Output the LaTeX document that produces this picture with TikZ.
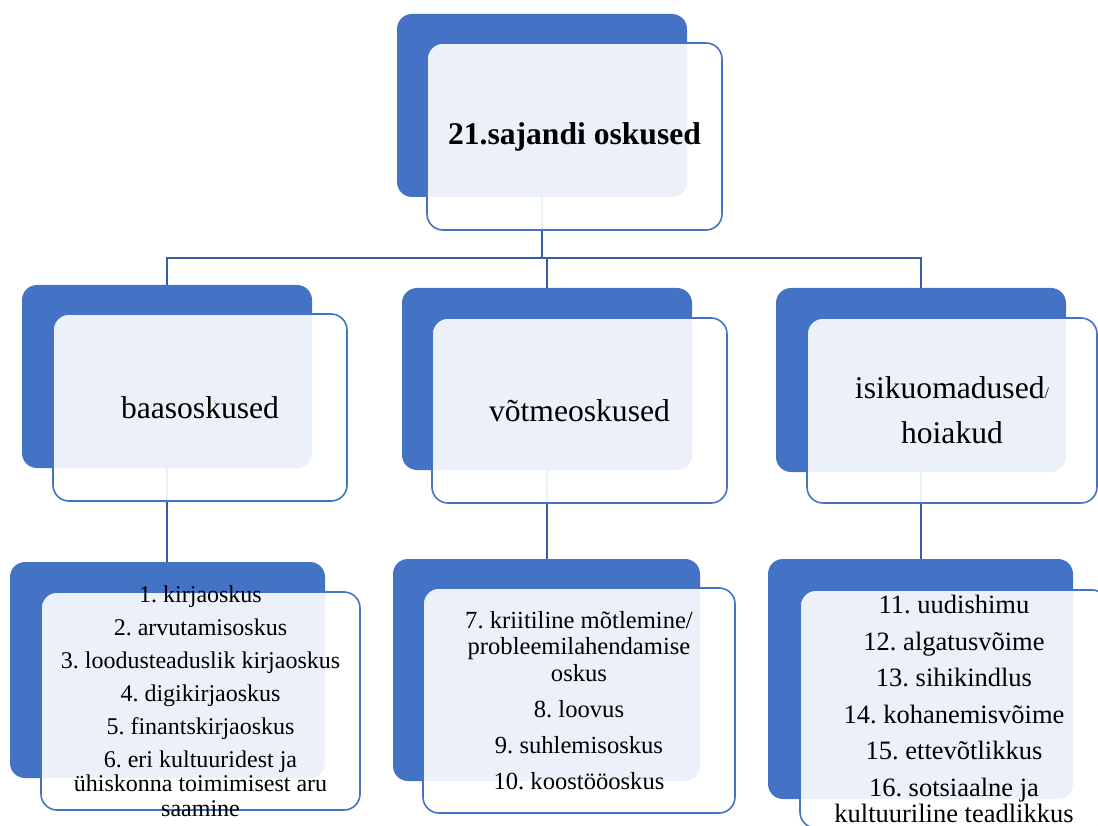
\documentclass[tikz,border=0pt]{standalone}
\usepackage{fontspec}
\setmainfont{Liberation Serif}
\usetikzlibrary{backgrounds}
\frenchspacing

\definecolor{accent}{RGB}{68,114,196}
\definecolor{linkblue}{RGB}{56,92,168}

\tikzstyle{back-block} = [rectangle, fill=accent, rounded corners=15pt, inner sep=0pt]
\tikzstyle{front-block} = [rectangle, draw=accent, line width=1.6pt, fill=white, fill opacity=0.9, rounded corners=16pt, inner sep=0pt]
\tikzstyle{head-block} = [back-block, minimum width=290pt, minimum height=183pt]
\tikzstyle{head-front} = [front-block, minimum width=294pt, minimum height=187pt]
\tikzstyle{label-text} = [align=center, inner sep=0pt, font=\fontsize{31.6}{45}\selectfont]
\tikzstyle{connector} = [draw=linkblue, line width=1.6pt]

\begin{document}
\begin{tikzpicture}[x=1pt, y=-1pt]

	\useasboundingbox (0,0) rectangle (1098,826);
	\clip (0,0) rectangle (1098,826);

	% top
	\node [head-block] (top-back) at (542,105.5) {};
	\node [head-front, minimum width=295pt] (top-front) at (574.5,136.5) {};
	\node [label-text, font=\fontsize{31.6}{45}\selectfont\bfseries] (top-text) at (top-front.center) {21.sajandi oskused};

	% middle row
	\node [head-block] (base-back) at (167,376.5) {};
	\node [head-front] (base-front) at (200,407.5) {};
	\node [label-text] (base-text) at (base-front.center) {baasoskused};

	\node [head-block, minimum height=182pt] (key-back) at (547,379) {};
	\node [head-front, minimum width=295pt, minimum height=185pt] (key-front) at (579.5,410.5) {};
	\node [label-text] (key-text) at (key-front.center) {võtmeoskused};

	\node [head-block, minimum height=184pt] (trait-back) at (921,380) {};
	\node [head-front, minimum width=290pt, minimum height=185pt] (trait-front) at (952,410.5) {};
	\node [label-text] (trait-text) at (trait-front.center) {isikuomadused{\fontsize{16}{16}\selectfont/}\\hoiakud};

	% bottom row
	\node [back-block, minimum width=315pt, minimum height=216pt] (base-list-back) at (167.5,670) {};
	\node [front-block, minimum width=319pt, minimum height=218pt] (base-list-front) at (200.5,701) {};
	\node [align=center, inner sep=0pt, font=\fontsize{24}{24.5}\selectfont] (base-list) at (base-list-front.center) {%
		1. kirjaoskus\\[8.5pt]
		2. arvutamisoskus\\[8.5pt]
		3. loodusteaduslik kirjaoskus\\[8.5pt]
		4. digikirjaoskus\\[8.5pt]
		5. finantskirjaoskus\\[8.5pt]
		6. eri kultuuridest ja\\
		ühiskonna toimimisest aru\\
		saamine};

	\node [back-block, minimum width=307pt, minimum height=222pt] (key-list-back) at (546.5,670) {};
	\node [front-block, minimum width=312pt, minimum height=225pt] (key-list-front) at (579,700.5) {};
	\node [align=center, inner sep=0pt, font=\fontsize{24.6}{26.5}\selectfont] (key-list) at (key-list-front.center) {%
		7. kriitiline mõtlemine/\\
		probleemilahendamise\\
		oskus\\[9.5pt]
		8. loovus\\[9.5pt]
		9. suhlemisoskus\\[9.5pt]
		10. koostööoskus};

	\node [back-block, minimum width=305pt, minimum height=240pt] (trait-list-back) at (920.5,679) {};
	\node [front-block, minimum width=308pt, minimum height=238pt] (trait-list-front) at (954,709) {};
	\node [align=center, inner sep=0pt, font=\fontsize{26.5}{26.5}\selectfont] (trait-list) at (trait-list-front.center) {%
		11. uudishimu\\[10pt]
		12. algatusvõime\\[10pt]
		13. sihikindlus\\[10pt]
		14. kohanemisvõime\\[10pt]
		15. ettevõtlikkus\\[10pt]
		16. sotsiaalne ja\\
		kultuuriline teadlikkus};

	\begin{pgfonlayer}{background}
		\draw [connector] (top-back.south) -- ++(0,61) coordinate (hub);
		\draw [connector] (hub) -| (base-back.north);
		\draw [connector] (hub) -| (key-back.north);
		\draw [connector] (hub) -| (trait-back.north);
		\draw [connector] (base-back.south) -- (base-list-back.north -| base-back.south);
		\draw [connector] (key-back.south) -- (key-list-back.north -| key-back.south);
		\draw [connector] (trait-back.south) -- (trait-list-back.north -| trait-back.south);
	\end{pgfonlayer}

\end{tikzpicture}
\end{document}
